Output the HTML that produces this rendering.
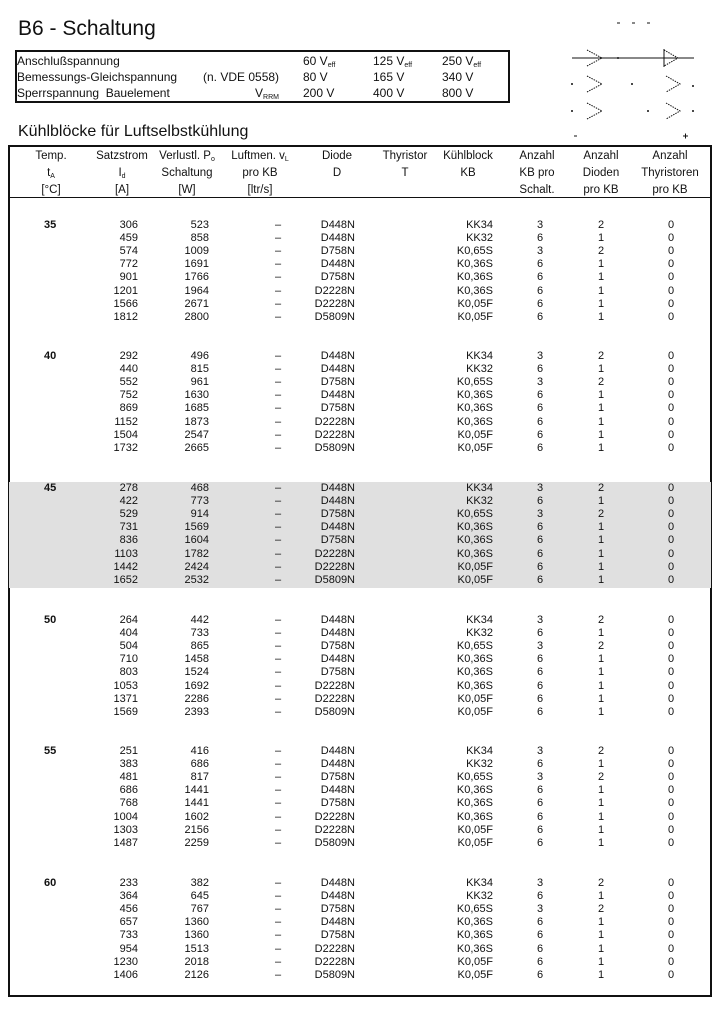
<!DOCTYPE html>
<html><head><meta charset="utf-8"><style>
body{margin:0;width:720px;height:1012px;background:#fff;position:relative;font-family:"Liberation Sans",sans-serif;color:#111;overflow:hidden}
.abs{position:absolute;white-space:nowrap}
.box{position:absolute;border:2px solid #111;box-sizing:border-box}
.r{position:absolute;height:13px;left:0;width:720px;font-size:11px;line-height:13px}
.r span{position:absolute;top:0}
.t{left:44px;font-weight:bold}
.a{left:88px;width:50px;text-align:right}
.p{left:159px;width:50px;text-align:right}
.l{left:258px;width:40px;text-align:center}
.d{left:295px;width:60px;text-align:right}
.k{left:428px;width:65px;text-align:right}
.n{left:520px;width:40px;text-align:center}
.m{left:581px;width:40px;text-align:center}
.z{left:651px;width:40px;text-align:center}
.h{position:absolute;font-size:11.5px;line-height:17px;text-align:center;width:90px}
sub{font-size:7px;vertical-align:-2px;line-height:0}
</style></head><body>
<div class="abs" style="left:18px;top:17px;font-size:21px">B6 - Schaltung</div>
<div class="box" style="left:15px;top:50px;width:495px;height:53px"></div>
<div class="abs" style="left:17px;top:53px;font-size:12px;line-height:16px">Anschlußspannung<br>Bemessungs-Gleichspannung<br>Sperrspannung&nbsp; Bauelement</div>
<div class="abs" style="left:203px;top:69px;font-size:12px;line-height:16px">(n. VDE 0558)</div>
<div class="abs" style="left:255px;top:85px;font-size:12px;line-height:16px">V<sub>RRM</sub></div>
<div class="abs" style="left:303px;top:53px;font-size:12px;line-height:16px">60 V<sub>eff</sub><br>80 V<br>200 V</div>
<div class="abs" style="left:373px;top:53px;font-size:12px;line-height:16px">125 V<sub>eff</sub><br>165 V<br>400 V</div>
<div class="abs" style="left:442px;top:53px;font-size:12px;line-height:16px">250 V<sub>eff</sub><br>340 V<br>800 V</div>
<svg class="abs" style="left:560px;top:10px" width="160" height="135" viewBox="0 0 160 135">
<g stroke="#111" fill="none" stroke-width="1">
<line x1="12" y1="48" x2="134" y2="48"/>
<line x1="57" y1="13" x2="60" y2="13"/><line x1="72" y1="13" x2="75" y2="13"/><line x1="87" y1="13" x2="90" y2="13"/>
<polyline points="27,40 42,48 27,56" stroke-dasharray="1.5,1"/>
<polyline points="104,40 118,48 104,56" stroke-dasharray="1.5,1"/>
<line x1="104" y1="39" x2="104" y2="57"/>
<polyline points="27,66 42,74 27,82" stroke-dasharray="1.5,1"/>
<polyline points="106,66 120,74 106,82" stroke-dasharray="1.5,1"/>
<polyline points="27,93 42,101 27,109" stroke-dasharray="1.5,1"/>
<polyline points="106,93 120,101 106,109" stroke-dasharray="1.5,1"/>
<line x1="14" y1="126" x2="17" y2="126"/>
<line x1="123" y1="126" x2="128" y2="126"/><line x1="125.5" y1="123.5" x2="125.5" y2="128.5"/>
</g>
<g fill="#111"><circle cx="58" cy="48" r="1"/><circle cx="12" cy="74" r="1"/><circle cx="72" cy="74" r="1"/><circle cx="133" cy="76" r="1"/><circle cx="12" cy="101" r="1"/><circle cx="88" cy="101" r="1"/><circle cx="133" cy="101" r="1"/></g>
</svg>
<div class="abs" style="left:18px;top:123px;font-size:16px">Kühlblöcke für Luftselbstkühlung</div>
<div class="box" style="left:8px;top:145px;width:704px;height:852px"></div>
<div class="abs" style="left:9px;top:197px;width:702px;height:1px;background:#111"></div>
<div class="abs" style="left:9px;top:482px;width:702px;height:106px;background:#e0e0e0"></div>
<div class="h" style="left:6px;top:148px">Temp.<br>t<sub>A</sub><br>[°C]</div>
<div class="h" style="left:77px;top:148px">Satzstrom<br>I<sub>d</sub><br>[A]</div>
<div class="h" style="left:142px;top:148px">Verlustl. P<sub>o</sub><br>Schaltung<br>[W]</div>
<div class="h" style="left:215px;top:148px">Luftmen. v<sub>L</sub><br>pro KB<br>[ltr/s]</div>
<div class="h" style="left:292px;top:148px">Diode<br>D</div>
<div class="h" style="left:360px;top:148px">Thyristor<br>T</div>
<div class="h" style="left:423px;top:148px">Kühlblock<br>KB</div>
<div class="h" style="left:492px;top:148px">Anzahl<br>KB pro<br>Schalt.</div>
<div class="h" style="left:556px;top:148px">Anzahl<br>Dioden<br>pro KB</div>
<div class="h" style="left:625px;top:148px">Anzahl<br>Thyristoren<br>pro KB</div>

<div style="position:absolute;left:0;top:219px">
<div class="r" style="top:0"><span class="t">35</span><span class="a">306</span><span class="p">523</span><span class="l">–</span><span class="d">D448N</span><span class="k">KK34</span><span class="n">3</span><span class="m">2</span><span class="z">0</span></div>
<div class="r" style="top:13.1px"><span class="a">459</span><span class="p">858</span><span class="l">–</span><span class="d">D448N</span><span class="k">KK32</span><span class="n">6</span><span class="m">1</span><span class="z">0</span></div>
<div class="r" style="top:26.2px"><span class="a">574</span><span class="p">1009</span><span class="l">–</span><span class="d">D758N</span><span class="k">K0,65S</span><span class="n">3</span><span class="m">2</span><span class="z">0</span></div>
<div class="r" style="top:39.3px"><span class="a">772</span><span class="p">1691</span><span class="l">–</span><span class="d">D448N</span><span class="k">K0,36S</span><span class="n">6</span><span class="m">1</span><span class="z">0</span></div>
<div class="r" style="top:52.4px"><span class="a">901</span><span class="p">1766</span><span class="l">–</span><span class="d">D758N</span><span class="k">K0,36S</span><span class="n">6</span><span class="m">1</span><span class="z">0</span></div>
<div class="r" style="top:65.5px"><span class="a">1201</span><span class="p">1964</span><span class="l">–</span><span class="d">D2228N</span><span class="k">K0,36S</span><span class="n">6</span><span class="m">1</span><span class="z">0</span></div>
<div class="r" style="top:78.6px"><span class="a">1566</span><span class="p">2671</span><span class="l">–</span><span class="d">D2228N</span><span class="k">K0,05F</span><span class="n">6</span><span class="m">1</span><span class="z">0</span></div>
<div class="r" style="top:91.7px"><span class="a">1812</span><span class="p">2800</span><span class="l">–</span><span class="d">D5809N</span><span class="k">K0,05F</span><span class="n">6</span><span class="m">1</span><span class="z">0</span></div>
</div>

<div style="position:absolute;left:0;top:350px">
<div class="r" style="top:0"><span class="t">40</span><span class="a">292</span><span class="p">496</span><span class="l">–</span><span class="d">D448N</span><span class="k">KK34</span><span class="n">3</span><span class="m">2</span><span class="z">0</span></div>
<div class="r" style="top:13.1px"><span class="a">440</span><span class="p">815</span><span class="l">–</span><span class="d">D448N</span><span class="k">KK32</span><span class="n">6</span><span class="m">1</span><span class="z">0</span></div>
<div class="r" style="top:26.2px"><span class="a">552</span><span class="p">961</span><span class="l">–</span><span class="d">D758N</span><span class="k">K0,65S</span><span class="n">3</span><span class="m">2</span><span class="z">0</span></div>
<div class="r" style="top:39.3px"><span class="a">752</span><span class="p">1630</span><span class="l">–</span><span class="d">D448N</span><span class="k">K0,36S</span><span class="n">6</span><span class="m">1</span><span class="z">0</span></div>
<div class="r" style="top:52.4px"><span class="a">869</span><span class="p">1685</span><span class="l">–</span><span class="d">D758N</span><span class="k">K0,36S</span><span class="n">6</span><span class="m">1</span><span class="z">0</span></div>
<div class="r" style="top:65.5px"><span class="a">1152</span><span class="p">1873</span><span class="l">–</span><span class="d">D2228N</span><span class="k">K0,36S</span><span class="n">6</span><span class="m">1</span><span class="z">0</span></div>
<div class="r" style="top:78.6px"><span class="a">1504</span><span class="p">2547</span><span class="l">–</span><span class="d">D2228N</span><span class="k">K0,05F</span><span class="n">6</span><span class="m">1</span><span class="z">0</span></div>
<div class="r" style="top:91.7px"><span class="a">1732</span><span class="p">2665</span><span class="l">–</span><span class="d">D5809N</span><span class="k">K0,05F</span><span class="n">6</span><span class="m">1</span><span class="z">0</span></div>
</div>

<div style="position:absolute;left:0;top:482px">
<div class="r" style="top:0"><span class="t">45</span><span class="a">278</span><span class="p">468</span><span class="l">–</span><span class="d">D448N</span><span class="k">KK34</span><span class="n">3</span><span class="m">2</span><span class="z">0</span></div>
<div class="r" style="top:13.1px"><span class="a">422</span><span class="p">773</span><span class="l">–</span><span class="d">D448N</span><span class="k">KK32</span><span class="n">6</span><span class="m">1</span><span class="z">0</span></div>
<div class="r" style="top:26.2px"><span class="a">529</span><span class="p">914</span><span class="l">–</span><span class="d">D758N</span><span class="k">K0,65S</span><span class="n">3</span><span class="m">2</span><span class="z">0</span></div>
<div class="r" style="top:39.3px"><span class="a">731</span><span class="p">1569</span><span class="l">–</span><span class="d">D448N</span><span class="k">K0,36S</span><span class="n">6</span><span class="m">1</span><span class="z">0</span></div>
<div class="r" style="top:52.4px"><span class="a">836</span><span class="p">1604</span><span class="l">–</span><span class="d">D758N</span><span class="k">K0,36S</span><span class="n">6</span><span class="m">1</span><span class="z">0</span></div>
<div class="r" style="top:65.5px"><span class="a">1103</span><span class="p">1782</span><span class="l">–</span><span class="d">D2228N</span><span class="k">K0,36S</span><span class="n">6</span><span class="m">1</span><span class="z">0</span></div>
<div class="r" style="top:78.6px"><span class="a">1442</span><span class="p">2424</span><span class="l">–</span><span class="d">D2228N</span><span class="k">K0,05F</span><span class="n">6</span><span class="m">1</span><span class="z">0</span></div>
<div class="r" style="top:91.7px"><span class="a">1652</span><span class="p">2532</span><span class="l">–</span><span class="d">D5809N</span><span class="k">K0,05F</span><span class="n">6</span><span class="m">1</span><span class="z">0</span></div>
</div>

<div style="position:absolute;left:0;top:614px">
<div class="r" style="top:0"><span class="t">50</span><span class="a">264</span><span class="p">442</span><span class="l">–</span><span class="d">D448N</span><span class="k">KK34</span><span class="n">3</span><span class="m">2</span><span class="z">0</span></div>
<div class="r" style="top:13.1px"><span class="a">404</span><span class="p">733</span><span class="l">–</span><span class="d">D448N</span><span class="k">KK32</span><span class="n">6</span><span class="m">1</span><span class="z">0</span></div>
<div class="r" style="top:26.2px"><span class="a">504</span><span class="p">865</span><span class="l">–</span><span class="d">D758N</span><span class="k">K0,65S</span><span class="n">3</span><span class="m">2</span><span class="z">0</span></div>
<div class="r" style="top:39.3px"><span class="a">710</span><span class="p">1458</span><span class="l">–</span><span class="d">D448N</span><span class="k">K0,36S</span><span class="n">6</span><span class="m">1</span><span class="z">0</span></div>
<div class="r" style="top:52.4px"><span class="a">803</span><span class="p">1524</span><span class="l">–</span><span class="d">D758N</span><span class="k">K0,36S</span><span class="n">6</span><span class="m">1</span><span class="z">0</span></div>
<div class="r" style="top:65.5px"><span class="a">1053</span><span class="p">1692</span><span class="l">–</span><span class="d">D2228N</span><span class="k">K0,36S</span><span class="n">6</span><span class="m">1</span><span class="z">0</span></div>
<div class="r" style="top:78.6px"><span class="a">1371</span><span class="p">2286</span><span class="l">–</span><span class="d">D2228N</span><span class="k">K0,05F</span><span class="n">6</span><span class="m">1</span><span class="z">0</span></div>
<div class="r" style="top:91.7px"><span class="a">1569</span><span class="p">2393</span><span class="l">–</span><span class="d">D5809N</span><span class="k">K0,05F</span><span class="n">6</span><span class="m">1</span><span class="z">0</span></div>
</div>

<div style="position:absolute;left:0;top:745px">
<div class="r" style="top:0"><span class="t">55</span><span class="a">251</span><span class="p">416</span><span class="l">–</span><span class="d">D448N</span><span class="k">KK34</span><span class="n">3</span><span class="m">2</span><span class="z">0</span></div>
<div class="r" style="top:13.1px"><span class="a">383</span><span class="p">686</span><span class="l">–</span><span class="d">D448N</span><span class="k">KK32</span><span class="n">6</span><span class="m">1</span><span class="z">0</span></div>
<div class="r" style="top:26.2px"><span class="a">481</span><span class="p">817</span><span class="l">–</span><span class="d">D758N</span><span class="k">K0,65S</span><span class="n">3</span><span class="m">2</span><span class="z">0</span></div>
<div class="r" style="top:39.3px"><span class="a">686</span><span class="p">1441</span><span class="l">–</span><span class="d">D448N</span><span class="k">K0,36S</span><span class="n">6</span><span class="m">1</span><span class="z">0</span></div>
<div class="r" style="top:52.4px"><span class="a">768</span><span class="p">1441</span><span class="l">–</span><span class="d">D758N</span><span class="k">K0,36S</span><span class="n">6</span><span class="m">1</span><span class="z">0</span></div>
<div class="r" style="top:65.5px"><span class="a">1004</span><span class="p">1602</span><span class="l">–</span><span class="d">D2228N</span><span class="k">K0,36S</span><span class="n">6</span><span class="m">1</span><span class="z">0</span></div>
<div class="r" style="top:78.6px"><span class="a">1303</span><span class="p">2156</span><span class="l">–</span><span class="d">D2228N</span><span class="k">K0,05F</span><span class="n">6</span><span class="m">1</span><span class="z">0</span></div>
<div class="r" style="top:91.7px"><span class="a">1487</span><span class="p">2259</span><span class="l">–</span><span class="d">D5809N</span><span class="k">K0,05F</span><span class="n">6</span><span class="m">1</span><span class="z">0</span></div>
</div>

<div style="position:absolute;left:0;top:877px">
<div class="r" style="top:0"><span class="t">60</span><span class="a">233</span><span class="p">382</span><span class="l">–</span><span class="d">D448N</span><span class="k">KK34</span><span class="n">3</span><span class="m">2</span><span class="z">0</span></div>
<div class="r" style="top:13.1px"><span class="a">364</span><span class="p">645</span><span class="l">–</span><span class="d">D448N</span><span class="k">KK32</span><span class="n">6</span><span class="m">1</span><span class="z">0</span></div>
<div class="r" style="top:26.2px"><span class="a">456</span><span class="p">767</span><span class="l">–</span><span class="d">D758N</span><span class="k">K0,65S</span><span class="n">3</span><span class="m">2</span><span class="z">0</span></div>
<div class="r" style="top:39.3px"><span class="a">657</span><span class="p">1360</span><span class="l">–</span><span class="d">D448N</span><span class="k">K0,36S</span><span class="n">6</span><span class="m">1</span><span class="z">0</span></div>
<div class="r" style="top:52.4px"><span class="a">733</span><span class="p">1360</span><span class="l">–</span><span class="d">D758N</span><span class="k">K0,36S</span><span class="n">6</span><span class="m">1</span><span class="z">0</span></div>
<div class="r" style="top:65.5px"><span class="a">954</span><span class="p">1513</span><span class="l">–</span><span class="d">D2228N</span><span class="k">K0,36S</span><span class="n">6</span><span class="m">1</span><span class="z">0</span></div>
<div class="r" style="top:78.6px"><span class="a">1230</span><span class="p">2018</span><span class="l">–</span><span class="d">D2228N</span><span class="k">K0,05F</span><span class="n">6</span><span class="m">1</span><span class="z">0</span></div>
<div class="r" style="top:91.7px"><span class="a">1406</span><span class="p">2126</span><span class="l">–</span><span class="d">D5809N</span><span class="k">K0,05F</span><span class="n">6</span><span class="m">1</span><span class="z">0</span></div>
</div>
</body></html>
